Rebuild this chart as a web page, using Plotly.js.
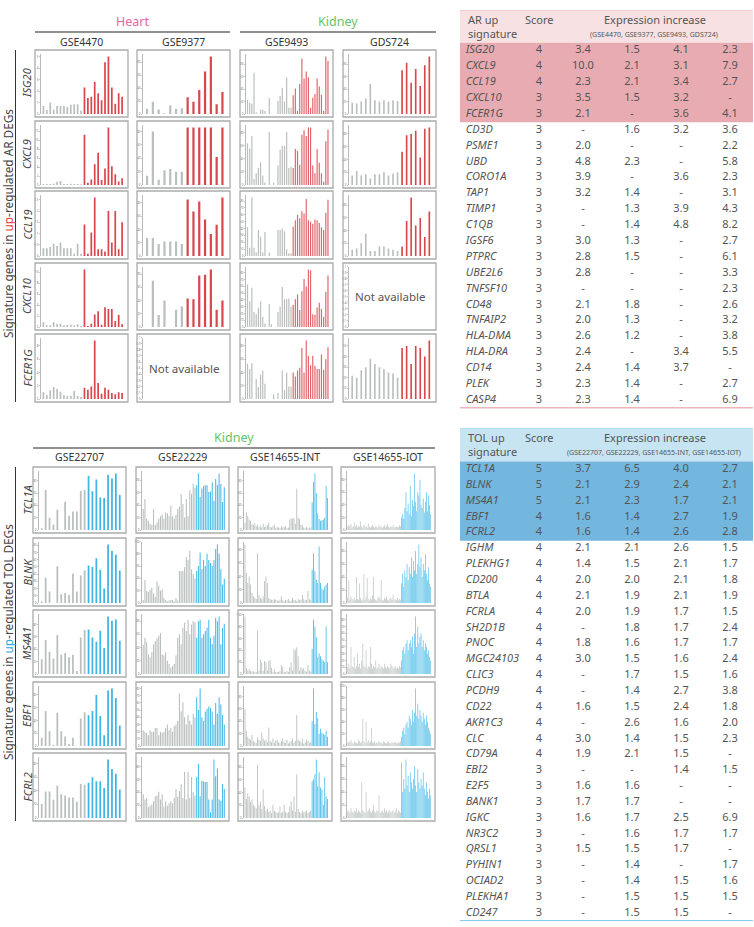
<!DOCTYPE html>
<html>
<head>
<meta charset="utf-8">
<script src="https://cdn.plot.ly/plotly-3.0.1.min.js"></script>
<style>
  html, body { margin: 0; padding: 0; background: #ffffff; }
  #chart { width: 754px; height: 927px; }
</style>
</head>
<body>
<div id="chart"></div>
<script>
// ---------- Panel A: signature genes in up-regulated AR DEGs ----------
const arGenes = ['ISG20', 'CXCL9', 'CCL19', 'CXCL10', 'FCER1G'];
const arSets = ['GSE4470', 'GSE9377', 'GSE9493', 'GDS724'];

const ISG20_GSE4470_ctrl = [0.7, 0.35, 1.0, 0.4, 0.7, 0.7, 0.7, 0.6, 0.8, 0.85, 0.85, 0.3];
const ISG20_GSE4470_up = [2.3, 1.4, 1.5, 2.8, 1.8, 1.2, 4.5, 5.0, 2.3, 0.9, 1.8, 1.5];
const ISG20_GSE9377_ctrl = [8, 19, 7, 1, 13, 8, 9];
const ISG20_GSE9377_up = [26, 19, 37, 66, 89, 15, 34];
const ISG20_GSE9493_ctrl = [23, 18, 17, 66, 3, 0, 7, 7, 5, 0, 26, 0, 0, 0, 21, 29, 42, 20, 59, 10, 10];
const ISG20_GSE9493_up = [30, 41, 5, 48, 89, 57, 68, 59, 10, 26, 32, 57, 44, 31, 5, 92, 85];
const ISG20_GDS724_ctrl = [18, 17, 20, 25, 48, 22, 20, 22, 20, 22, 21];
const ISG20_GDS724_up = [70, 82, 50, 72, 45, 78, 92];

const CXCL9_GSE4470_ctrl = [0.2, 0.2, 0.2, 0.3, 0.7, 0.9, 0.2, 0.2, 0.3, 0.2, 0.2, 0.1];
const CXCL9_GSE4470_up = [11.2, 0.5, 1.2, 4.6, 7.2, 1.1, 3.7, 12.8, 4.2, 2.4, 0.8, 1.5];
const CXCL9_GSE9377_ctrl = [14, 80, 8, 22, 24, 20, 20];
const CXCL9_GSE9377_up = [86, 86, 86, 86, 86, 42, 86];
const CXCL9_GSE9493_ctrl = [64, 56, 75, 9, 18, 26, 35, 14, 4, 0, 81, 0, 4, 0, 30, 54, 60, 60, 81, 26, 28];
const CXCL9_GSE9493_up = [26, 55, 52, 31, 77, 84, 75, 88, 88, 30, 18, 55, 34, 18, 5, 67, 85];
const CXCL9_GDS724_ctrl = [15, 22, 15, 17, 10, 17, 17, 20, 15, 18, 20];
const CXCL9_GDS724_up = [52, 78, 80, 85, 43, 88, 90];

const CCL19_GSE4470_ctrl = [0.35, 0.35, 0.4, 0.55, 0.45, 0.6, 0.35, 0.35, 0.35, 0.1, 0.55, 0.1];
const CCL19_GSE4470_up = [1.4, 0.1, 1.05, 2.6, 0.3, 0.3, 0.2, 2.0, 0.6, 2.0, 0.3, 1.5];
const CCL19_GSE9377_ctrl = [27, 27, 18, 22, 22, 22, 18];
const CCL19_GSE9377_up = [85, 67, 82, 55, 33, 47, 88];
const CCL19_GSE9493_ctrl = [42, 12, 85, 12, 5, 38, 28, 5, 35, 0, 5, 0, 0, 0, 38, 38, 40, 36, 10, 4, 4];
const CCL19_GSE9493_up = [43, 52, 60, 55, 65, 62, 83, 52, 50, 47, 53, 52, 48, 42, 38, 63, 82];
const CCL19_GDS724_ctrl = [10, 12, 20, 35, 8, 8, 15, 15, 12, 10, 8];
const CCL19_GDS724_up = [15, 55, 92, 48, 60, 30, 70];

const CXCL10_GSE4470_ctrl = [0.9, 0.3, 0.3, 0.9, 0.6, 0.6, 0.3, 0.4, 0.4, 0.3, 0.5, 0.2];
const CXCL10_GSE4470_up = [10.5, 0.2, 0.6, 2.3, 2.9, 0.4, 3.6, 3.3, 3.3, 1.1, 2.2, 0.5];
const CXCL10_GSE9377_ctrl = [0, 70, 18, 40, 0, 26, 31];
const CXCL10_GSE9377_up = [43, 42, 78, 79, 87, 26, 40];
const CXCL10_GSE9493_ctrl = [63, 38, 58, 22, 19, 29, 38, 15, 5, 0, 34, 4, 0, 0, 22, 30, 59, 41, 41, 42, 30];
const CXCL10_GSE9493_up = [33, 41, 48, 25, 53, 71, 60, 85, 84, 19, 18, 29, 36, 27, 15, 52, 76];

const FCER1G_GSE4470_ctrl = [1.0, 0.6, 1.3, 1.8, 1.5, 1.1, 0.6, 0.5, 0.5, 1.2, 0.5, 0.3];
const FCER1G_GSE4470_up = [1.7, 1.4, 1.9, 8.8, 2.4, 0.8, 1.7, 1.4, 0.9, 0.7, 1.0, 0.9];
const FCER1G_GSE9493_ctrl = [53, 45, 54, 0, 30, 18, 37, 43, 23, 0, 0, 0, 7, 0, 9, 0, 43, 13, 40, 19, 19];
const FCER1G_GSE9493_up = [40, 34, 43, 47, 77, 40, 88, 65, 51, 65, 50, 45, 45, 67, 44, 60, 78];
const FCER1G_GDS724_ctrl = [22, 20, 27, 30, 38, 33, 30, 28, 25, 24, 20];
const FCER1G_GDS724_up = [48, 50, 33, 50, 48, 40, 55];

// ---------- Panel B: signature genes in up-regulated TOL DEGs ----------
const tolGenes = ['TCL1A', 'BLNK', 'MS4A1', 'EBF1', 'FCRL2'];
const tolSets = ['GSE22707', 'GSE22229', 'GSE14655-INT', 'GSE14655-IOT'];

const TCL1A_GSE22707_ctrl = [3, 65, 20, 9, 33, 0, 46, 23, 30, 30, 64, 65];
const TCL1A_GSE22707_up = [88, 63, 82, 53, 52, 90, 84, 92, 57];
const TCL1A_GSE22229_ctrl = [34, 50, 18, 15, 10, 8, 34, 8, 12, 18, 22, 25, 18, 28, 27, 22, 39, 22, 18, 24, 34, 38, 58, 42, 20, 50, 22, 64, 58, 74, 68];
const TCL1A_GSE22229_up = [72, 91, 53, 67, 71, 72, 72, 61, 62, 77, 47, 82, 73, 91, 74, 45, 69];
const TCL1A_INT_ctrl = [12, 29, 23, 17, 15, 10, 8, 12, 6, 9, 5, 7, 4, 10, 5, 6, 8, 12, 5, 4, 6, 9, 3, 5, 4, 3, 6, 4, 5, 7, 3, 4, 17, 19, 18, 20, 10, 67, 20, 18, 8, 8, 4, 3, 5, 3, 4, 3];
const TCL1A_INT_up = [45, 78, 92, 60, 27, 18, 15, 16, 17, 20, 72, 52];
const TCL1A_IOT_ctrl = [5, 8, 6, 10, 4, 6, 12, 5, 8, 4, 6, 5, 14, 6, 4, 8, 5, 6, 4, 10, 5, 4, 6, 8, 5, 4, 6, 5, 4, 8, 5, 6, 4, 5, 8, 4, 6, 10, 5, 4, 6, 5, 8, 4, 5, 6, 4, 5, 8, 6];
const TCL1A_IOT_up = [20, 25, 18, 35, 60, 30, 42, 25, 70, 22, 48, 38, 90, 45, 30, 60, 55, 80, 40, 35, 50, 28, 45, 60, 30, 55, 40, 25];

const BLNK_GSE22707_ctrl = [2, 35, 16, 0, 51, 12, 14, 11, 41, 16, 38, 45];
const BLNK_GSE22707_up = [52, 50, 62, 46, 20, 81, 72, 67, 45];
const BLNK_GSE22229_ctrl = [5, 38, 20, 18, 22, 25, 15, 10, 35, 28, 20, 22, 8, 5, 3, 4, 5, 5, 3, 8, 4, 52, 52, 52, 58, 75, 70, 85, 55, 47, 40];
const BLNK_GSE22229_up = [52, 60, 82, 55, 70, 60, 80, 70, 65, 60, 70, 88, 95, 80, 55, 30, 40];
const BLNK_INT_ctrl = [88, 45, 30, 40, 28, 15, 10, 8, 6, 75, 12, 8, 6, 10, 33, 40, 30, 8, 6, 5, 4, 6, 5, 4, 3, 5, 10, 4, 3, 5, 4, 6, 3, 4, 8, 5, 4, 3, 6, 4, 5, 12, 6, 4, 5, 18, 6, 4];
const BLNK_INT_up = [50, 75, 48, 35, 30, 85, 30, 22, 20, 25, 28, 30];
const BLNK_IOT_ctrl = [8, 35, 5, 10, 6, 4, 8, 5, 40, 6, 5, 30, 8, 4, 6, 45, 5, 10, 38, 6, 4, 8, 5, 12, 40, 6, 5, 4, 8, 10, 6, 35, 5, 4, 8, 6, 10, 5, 4, 6, 8, 5, 12, 4, 6, 5, 8, 4, 6, 5];
const BLNK_IOT_up = [30, 45, 25, 50, 40, 60, 35, 55, 45, 70, 40, 65, 50, 80, 45, 60, 90, 55, 70, 40, 60, 50, 75, 45, 35, 55, 30, 25];

const MS4A1_GSE22707_ctrl = [24, 55, 36, 25, 63, 31, 34, 27, 31, 5, 59, 71];
const MS4A1_GSE22707_up = [72, 59, 52, 70, 42, 93, 86, 88, 54];
const MS4A1_GSE22229_ctrl = [44, 55, 48, 30, 25, 33, 45, 50, 54, 58, 62, 30, 28, 33, 20, 15, 10, 12, 15, 28, 55, 60, 45, 70, 78, 65, 82, 60, 75, 80, 78];
const MS4A1_GSE22229_up = [55, 80, 82, 55, 60, 65, 70, 82, 55, 45, 58, 85, 80, 87, 45, 70, 76];
const MS4A1_INT_ctrl = [97, 10, 6, 8, 5, 4, 5, 3, 4, 73, 6, 25, 20, 5, 22, 20, 6, 22, 23, 10, 4, 8, 3, 4, 3, 5, 15, 12, 4, 3, 5, 4, 12, 20, 6, 42, 40, 45, 30, 6, 12, 8, 10, 5, 4, 15, 6, 4];
const MS4A1_INT_up = [42, 92, 80, 62, 28, 35, 30, 25, 22, 20, 80, 20];
const MS4A1_IOT_ctrl = [10, 15, 8, 40, 12, 10, 25, 8, 12, 30, 10, 15, 8, 20, 45, 12, 10, 35, 8, 12, 10, 40, 15, 8, 12, 10, 20, 8, 10, 15, 8, 12, 10, 8, 15, 10, 8, 12, 10, 8, 15, 12, 8, 10, 12, 8, 10, 8, 12, 10];
const MS4A1_IOT_up = [20, 35, 40, 30, 45, 50, 35, 45, 50, 40, 55, 30, 60, 85, 40, 70, 45, 55, 60, 40, 50, 35, 45, 40, 30, 35, 25, 20];

const EBF1_GSE22707_ctrl = [13, 55, 23, 2, 52, 23, 15, 3, 13, 0, 43, 53];
const EBF1_GSE22707_up = [48, 55, 80, 47, 17, 87, 90, 75, 32];
const EBF1_GSE22229_ctrl = [22, 20, 18, 15, 22, 20, 20, 25, 25, 15, 20, 18, 20, 25, 30, 22, 25, 20, 28, 30, 35, 73, 48, 61, 40, 30, 43, 35, 30, 45, 40];
const EBF1_GSE22229_up = [68, 50, 80, 40, 35, 48, 52, 55, 53, 48, 30, 60, 45, 68, 58, 43, 30];
const EBF1_INT_ctrl = [60, 25, 15, 12, 10, 18, 8, 6, 5, 14, 10, 8, 22, 12, 8, 10, 6, 30, 8, 6, 12, 5, 8, 10, 6, 5, 8, 12, 6, 5, 10, 4, 6, 8, 12, 5, 8, 50, 10, 8, 6, 12, 4, 6, 10, 8, 5, 6];
const EBF1_INT_up = [40, 93, 35, 55, 45, 20, 28, 22, 20, 18, 25, 15];
const EBF1_IOT_ctrl = [5, 8, 6, 10, 5, 4, 8, 6, 5, 4, 10, 8, 5, 6, 45, 8, 5, 40, 6, 10, 5, 8, 30, 6, 5, 8, 4, 6, 5, 8, 6, 5, 4, 8, 6, 5, 4, 6, 8, 5, 4, 6, 5, 8, 6, 5, 4, 6, 5, 8];
const EBF1_IOT_up = [15, 25, 30, 20, 35, 40, 30, 50, 45, 35, 60, 40, 55, 95, 50, 70, 45, 60, 50, 40, 55, 45, 35, 50, 40, 30, 25, 20];

const FCRL2_GSE22707_ctrl = [21, 39, 39, 27, 48, 35, 33, 30, 30, 24, 50, 49];
const FCRL2_GSE22707_up = [52, 60, 54, 54, 44, 86, 72, 65, 42];
const FCRL2_GSE22229_ctrl = [37, 29, 31, 17, 19, 21, 26, 34, 35, 41, 29, 37, 18, 26, 19, 23, 26, 23, 31, 45, 33, 42, 53, 31, 72, 29, 72, 31, 64, 40, 35];
const FCRL2_GSE22229_up = [64, 84, 34, 58, 57, 56, 56, 29, 9, 29, 91, 65, 77, 29, 27, 53, 45];
const FCRL2_INT_ctrl = [48, 30, 39, 34, 25, 29, 21, 18, 15, 84, 20, 26, 14, 45, 19, 12, 15, 10, 12, 8, 21, 12, 10, 8, 9, 18, 8, 10, 21, 10, 8, 9, 18, 26, 12, 34, 10, 69, 14, 10, 8, 12, 9, 10, 12, 8, 10, 12];
const FCRL2_INT_up = [58, 61, 69, 92, 50, 72, 48, 45, 21, 64, 34, 30];
const FCRL2_IOT_ctrl = [10, 12, 8, 15, 10, 8, 12, 10, 15, 8, 12, 10, 8, 55, 12, 10, 8, 40, 10, 12, 15, 10, 8, 12, 20, 10, 8, 12, 10, 35, 8, 10, 12, 8, 15, 10, 12, 8, 10, 12, 8, 10, 12, 8, 10, 15, 8, 12, 10, 8];
const FCRL2_IOT_up = [85, 40, 60, 45, 90, 50, 65, 40, 70, 55, 45, 60, 80, 50, 40, 75, 55, 45, 60, 50, 70, 45, 35, 55, 40, 30, 45, 35];

// ---------- Tables ----------
const arTableGene = ['ISG20','CXCL9','CCL19','CXCL10','FCER1G','CD3D','PSME1','UBD','CORO1A','TAP1','TIMP1','C1QB','IGSF6','PTPRC','UBE2L6','TNFSF10','CD48','TNFAIP2','HLA-DMA','HLA-DRA','CD14','PLEK','CASP4'];
const arTableScore = [4,4,4,3,3,3,3,3,3,3,3,3,3,3,3,3,3,3,3,3,3,3,3];
const arIncGSE4470 = [3.4,10.0,2.3,3.5,2.1,null,2.0,4.8,3.9,3.2,null,null,3.0,2.8,2.8,null,2.1,2.0,2.6,2.4,2.4,2.3,2.3];
const arIncGSE9377 = [1.5,2.1,2.1,1.5,null,1.6,null,2.3,null,1.4,1.3,1.4,1.3,1.5,null,null,1.8,1.3,1.2,null,1.4,1.4,1.4];
const arIncGSE9493 = [4.1,3.1,3.4,3.2,3.6,3.2,null,null,3.6,null,3.9,4.8,null,null,null,null,null,null,null,3.4,3.7,null,null];
const arIncGDS724 = [2.3,7.9,2.7,null,4.1,3.6,2.2,5.8,2.3,3.1,4.3,8.2,2.7,6.1,3.3,2.3,2.6,3.2,3.8,5.5,null,2.7,6.9];

const tolTableGene = ['TCL1A','BLNK','MS4A1','EBF1','FCRL2','IGHM','PLEKHG1','CD200','BTLA','FCRLA','SH2D1B','PNOC','MGC24103','CLIC3','PCDH9','CD22','AKR1C3','CLC','CD79A','EBI2','E2F5','BANK1','IGKC','NR3C2','QRSL1','PYHIN1','OCIAD2','PLEKHA1','CD247'];
const tolTableScore = [5,5,5,4,4,4,4,4,4,4,4,4,4,4,4,4,4,4,4,3,3,3,3,3,3,3,3,3,3];
const tolIncGSE22707 = [3.7,2.1,2.1,1.6,1.6,2.1,1.4,2.0,2.1,2.0,null,1.8,3.0,null,null,1.6,null,3.0,1.9,null,1.6,1.7,1.6,null,1.5,null,null,null,null];
const tolIncGSE22229 = [6.5,2.9,2.3,1.4,1.4,2.1,1.5,2.0,1.9,1.9,1.8,1.6,1.5,1.7,1.4,1.5,2.6,1.4,2.1,null,1.6,1.7,1.7,1.6,1.5,1.4,1.4,1.5,1.5];
const tolIncINT = [4.0,2.4,1.7,2.7,2.6,2.6,2.1,2.1,2.1,1.7,1.7,1.7,1.6,1.5,2.7,2.4,1.6,1.5,1.5,1.4,null,null,2.5,1.7,1.7,null,1.5,1.5,1.5];
const tolIncIOT = [2.7,2.1,2.1,1.9,2.8,1.5,1.7,1.8,1.9,1.5,2.4,1.7,2.4,1.6,3.8,1.8,2.0,2.3,null,1.5,null,null,6.9,1.7,null,1.7,1.6,1.5,null];

// ---------- Layout helpers ----------
const W = 754, H = 927;
const px = v => v / W;
const py = v => 1 - v / H;
const FONT = 'Noto Sans, Open Sans, sans-serif';
const GRAY_BAR = '#b9bfbd';

const sections = [
  {
    genes: arGenes, sets: arSets,
    colours: ['#d9464c', '#d9464c', '#e2676d', '#d9464c'],
    widths: [0.5, 0.38, 0.55, 0.36],
    cols: [[35, 128], [137, 230], [240, 333], [343, 436]],
    rows: [[50, 117], [121, 188], [191, 259], [263, 330], [334, 402]],
    panels: [
      [[ISG20_GSE4470_ctrl, ISG20_GSE4470_up], [ISG20_GSE9377_ctrl, ISG20_GSE9377_up], [ISG20_GSE9493_ctrl, ISG20_GSE9493_up], [ISG20_GDS724_ctrl, ISG20_GDS724_up]],
      [[CXCL9_GSE4470_ctrl, CXCL9_GSE4470_up], [CXCL9_GSE9377_ctrl, CXCL9_GSE9377_up], [CXCL9_GSE9493_ctrl, CXCL9_GSE9493_up], [CXCL9_GDS724_ctrl, CXCL9_GDS724_up]],
      [[CCL19_GSE4470_ctrl, CCL19_GSE4470_up], [CCL19_GSE9377_ctrl, CCL19_GSE9377_up], [CCL19_GSE9493_ctrl, CCL19_GSE9493_up], [CCL19_GDS724_ctrl, CCL19_GDS724_up]],
      [[CXCL10_GSE4470_ctrl, CXCL10_GSE4470_up], [CXCL10_GSE9377_ctrl, CXCL10_GSE9377_up], [CXCL10_GSE9493_ctrl, CXCL10_GSE9493_up], null],
      [[FCER1G_GSE4470_ctrl, FCER1G_GSE4470_up], null, [FCER1G_GSE9493_ctrl, FCER1G_GSE9493_up], [FCER1G_GDS724_ctrl, FCER1G_GDS724_up]]
    ],
    setLabelY: 42,
    groups: [
      {text: 'Heart', colour: '#e7649f', x0: 35, x1: 230},
      {text: 'Kidney', colour: '#66c466', x0: 240, x1: 436}
    ],
    groupY: 22, ruleY: 32,
    sideText: 'Signature genes in <span style="color:#e53e3e">up</span>-regulated AR DEGs'
  },
  {
    genes: tolGenes, sets: tolSets,
    colours: ['#3db5e5', '#4bbce8', '#4bbce8', '#4bbce8'],
    widths: [0.45, 0.62, 0.62, 0.62],
    cols: [[33, 126], [136, 229], [238, 332], [341, 435]],
    rows: [[467, 533], [538, 606], [610, 677], [682, 749], [753, 821]],
    panels: [
      [[TCL1A_GSE22707_ctrl, TCL1A_GSE22707_up], [TCL1A_GSE22229_ctrl, TCL1A_GSE22229_up], [TCL1A_INT_ctrl, TCL1A_INT_up], [TCL1A_IOT_ctrl, TCL1A_IOT_up]],
      [[BLNK_GSE22707_ctrl, BLNK_GSE22707_up], [BLNK_GSE22229_ctrl, BLNK_GSE22229_up], [BLNK_INT_ctrl, BLNK_INT_up], [BLNK_IOT_ctrl, BLNK_IOT_up]],
      [[MS4A1_GSE22707_ctrl, MS4A1_GSE22707_up], [MS4A1_GSE22229_ctrl, MS4A1_GSE22229_up], [MS4A1_INT_ctrl, MS4A1_INT_up], [MS4A1_IOT_ctrl, MS4A1_IOT_up]],
      [[EBF1_GSE22707_ctrl, EBF1_GSE22707_up], [EBF1_GSE22229_ctrl, EBF1_GSE22229_up], [EBF1_INT_ctrl, EBF1_INT_up], [EBF1_IOT_ctrl, EBF1_IOT_up]],
      [[FCRL2_GSE22707_ctrl, FCRL2_GSE22707_up], [FCRL2_GSE22229_ctrl, FCRL2_GSE22229_up], [FCRL2_INT_ctrl, FCRL2_INT_up], [FCRL2_IOT_ctrl, FCRL2_IOT_up]]
    ],
    setLabelY: 457,
    groups: [
      {text: 'Kidney', colour: '#66c466', x0: 33, x1: 435}
    ],
    groupY: 438, ruleY: 448,
    sideText: 'Signature genes in <span style="color:#2ea8df">up</span>-regulated TOL DEGs'
  }
];

const data = [];
const layout = {
  width: W, height: H,
  margin: {l: 0, r: 0, t: 0, b: 0},
  paper_bgcolor: '#ffffff', plot_bgcolor: 'rgba(0,0,0,0)',
  showlegend: false,
  font: {family: FONT, color: '#444'},
  shapes: [], annotations: []
};

let axisNo = 0;
function nextAxis() {
  axisNo += 1;
  const s = axisNo === 1 ? '' : String(axisNo);
  return {xKey: 'xaxis' + s, yKey: 'yaxis' + s, x: 'x' + s, y: 'y' + s};
}

// ---------- Small bar-chart grid ----------
sections.forEach(sec => {
  // group headers (Heart / Kidney) with rule below
  sec.groups.forEach(g => {
    layout.annotations.push({
      xref: 'paper', yref: 'paper', x: px((g.x0 + g.x1) / 2), y: py(sec.groupY),
      text: g.text, showarrow: false, xanchor: 'center', yanchor: 'middle',
      font: {family: FONT, size: 12.5, color: g.colour}
    });
    layout.shapes.push({
      type: 'line', xref: 'paper', yref: 'paper',
      x0: px(g.x0), x1: px(g.x1), y0: py(sec.ruleY), y1: py(sec.ruleY),
      line: {color: '#6d6d6d', width: 1.4}
    });
  });
  // dataset labels
  sec.sets.forEach((name, c) => {
    const [l, r] = sec.cols[c];
    layout.annotations.push({
      xref: 'paper', yref: 'paper', x: px((l + r) / 2), y: py(sec.setLabelY),
      text: name, showarrow: false, xanchor: 'center', yanchor: 'middle',
      font: {family: FONT, size: 10.5, color: '#333'}
    });
  });
  // side rule and rotated title
  const top = sec.rows[0][0], bottom = sec.rows[sec.rows.length - 1][1];
  layout.shapes.push({
    type: 'line', xref: 'paper', yref: 'paper',
    x0: px(15.5), x1: px(15.5), y0: py(top), y1: py(bottom),
    line: {color: '#333', width: 1}
  });
  layout.annotations.push({
    xref: 'paper', yref: 'paper', x: px(8), y: py((top + bottom) / 2 - 2),
    text: sec.sideText, textangle: -90, showarrow: false,
    xanchor: 'center', yanchor: 'middle',
    font: {family: FONT, size: 11.8, color: '#444'}
  });

  sec.genes.forEach((gene, r) => {
    const [t, b] = sec.rows[r];
    layout.annotations.push({
      xref: 'paper', yref: 'paper', x: px(26.5), y: py((t + b) / 2),
      text: gene, textangle: -90, showarrow: false,
      xanchor: 'center', yanchor: 'middle',
      font: {family: FONT, size: 11, color: '#444', style: 'italic'}
    });
    sec.cols.forEach(([l, rr], c) => {
      const ax = nextAxis();
      const panel = sec.panels[r][c];
      layout.shapes.push({
        type: 'rect', xref: 'paper', yref: 'paper',
        x0: px(l), x1: px(rr), y0: py(b), y1: py(t),
        line: {color: '#a9adac', width: 1.3}, fillcolor: 'rgba(0,0,0,0)'
      });
      const yAxis = {
        domain: [py(b - 3), py(t + 3.5)], anchor: ax.x,
        showgrid: false, zeroline: false,
        showline: true, linecolor: '#8c8c8c', linewidth: 0.6,
        ticks: 'outside', ticklen: 1.3, tickwidth: 0.5, tickcolor: '#8c8c8c',
        tickfont: {family: FONT, size: 3, color: '#777'}, nticks: 9, fixedrange: true
      };
      const xAxis = {
        domain: [px(l + 6), px(rr - 3.5)], anchor: ax.y,
        showgrid: false, zeroline: false, showline: false,
        showticklabels: false, ticks: '', fixedrange: true
      };
      if (panel) {
        const [ctrl, up] = panel;
        const n = ctrl.length + up.length;
        xAxis.range = [-0.7, n - 0.3];
        yAxis.rangemode = 'tozero';
        data.push({
          type: 'bar', xaxis: ax.x, yaxis: ax.y,
          x: ctrl.map((_, i) => i), y: ctrl,
          width: sec.widths[c], marker: {color: GRAY_BAR, line: {width: 0}},
          hoverinfo: 'skip'
        });
        data.push({
          type: 'bar', xaxis: ax.x, yaxis: ax.y,
          x: up.map((_, i) => ctrl.length + i), y: up,
          width: sec.widths[c], marker: {color: sec.colours[c], line: {width: 0}},
          hoverinfo: 'skip'
        });
      } else {
        xAxis.range = [0, 1];
        yAxis.range = [0, 1];
        yAxis.dtick = 0.1;
        data.push({type: 'scatter', mode: 'markers', xaxis: ax.x, yaxis: ax.y, x: [], y: [], hoverinfo: 'skip'});
        layout.annotations.push({
          xref: ax.x + ' domain', yref: ax.y + ' domain', x: 0.5, y: 0.5,
          text: 'Not available', showarrow: false, xanchor: 'center', yanchor: 'middle',
          font: {family: FONT, size: 11.5, color: '#555'}
        });
      }
      layout[ax.xKey] = xAxis;
      layout[ax.yKey] = yAxis;
    });
  });
});

// ---------- Tables ----------
const fmt = v => (v === null ? '-' : v.toFixed(1));

const tables = [
  {
    top: 10, bottom: 408.3, firstRow: 50.7, pitch: 15.88,
    genes: arTableGene, score: arTableScore,
    inc: [arIncGSE4470, arIncGSE9377, arIncGSE9493, arIncGDS724],
    head: 'AR up<br>signature', sub: '(GSE4470, GSE9377, GSE9493, GDS724)',
    headFill: '#f7e1e3', highFill: '#e8abb2', rule: '#e06d74', topRule: '#eab3b8'
  },
  {
    top: 428, bottom: 921, firstRow: 469.3, pitch: 15.85,
    genes: tolTableGene, score: tolTableScore,
    inc: [tolIncGSE22707, tolIncGSE22229, tolIncINT, tolIncIOT],
    head: 'TOL up<br>signature', sub: '(GSE22707, GSE22229, GSE14655-INT, GSE14655-IOT)',
    headFill: '#c7e4f3', highFill: '#73b6de', rule: '#62b9e4', topRule: '#a9d5ec'
  }
];
const TABLE_L = 460, TABLE_R = 753;
const colX = {gene: 5.7, score: 79, inc: [123, 172, 221, 270]};

tables.forEach(tb => {
  const ax = nextAxis();
  const yTop = (tb.top - tb.firstRow) / tb.pitch;
  const yBot = (tb.bottom - tb.firstRow) / tb.pitch;
  layout[ax.xKey] = {domain: [px(TABLE_L), px(TABLE_R)], range: [0, TABLE_R - TABLE_L], visible: false, fixedrange: true, anchor: ax.y};
  layout[ax.yKey] = {domain: [py(tb.bottom), py(tb.top)], range: [yBot, yTop], visible: false, fixedrange: true, anchor: ax.x};

  // header band, highlighted rows, rules
  layout.shapes.push({type: 'rect', xref: 'paper', yref: ax.y, x0: px(TABLE_L), x1: px(TABLE_R), y0: yTop, y1: -0.5, fillcolor: tb.headFill, line: {width: 0}, layer: 'below'});
  layout.shapes.push({type: 'rect', xref: 'paper', yref: ax.y, x0: px(TABLE_L), x1: px(TABLE_R), y0: -0.5, y1: 4.5, fillcolor: tb.highFill, line: {width: 0}, layer: 'below'});
  layout.shapes.push({type: 'line', xref: 'paper', yref: ax.y, x0: px(TABLE_L), x1: px(TABLE_R), y0: yTop, y1: yTop, line: {color: tb.topRule, width: 1}});
  layout.shapes.push({type: 'line', xref: 'paper', yref: ax.y, x0: px(TABLE_L), x1: px(TABLE_R), y0: yBot, y1: yBot, line: {color: tb.rule, width: 1.5}});

  const rowIdx = tb.genes.map((_, i) => i);
  const cellFont = {family: FONT, size: 11, color: '#555'};
  data.push({
    type: 'scatter', mode: 'text', xaxis: ax.x, yaxis: ax.y, cliponaxis: false,
    x: rowIdx.map(() => colX.gene), y: rowIdx, text: tb.genes,
    textposition: 'middle right', textfont: Object.assign({style: 'italic'}, cellFont), hoverinfo: 'skip'
  });
  data.push({
    type: 'scatter', mode: 'text', xaxis: ax.x, yaxis: ax.y, cliponaxis: false,
    x: rowIdx.map(() => colX.score), y: rowIdx, text: tb.score.map(String),
    textposition: 'middle center', textfont: cellFont, hoverinfo: 'skip'
  });
  tb.inc.forEach((vals, k) => {
    data.push({
      type: 'scatter', mode: 'text', xaxis: ax.x, yaxis: ax.y, cliponaxis: false,
      x: rowIdx.map(() => colX.inc[k]), y: rowIdx, text: vals.map(fmt),
      textposition: 'middle center', textfont: cellFont, hoverinfo: 'skip'
    });
  });

  // header text
  const hy1 = -1.98, hy2 = -1.07;
  const headFont = {family: FONT, size: 11, color: '#555'};
  layout.annotations.push({xref: ax.x, yref: ax.y, x: colX.gene, y: (hy1 + hy2) / 2 - 0.02, text: tb.head, align: 'left', showarrow: false, xanchor: 'left', yanchor: 'middle', font: headFont});
  layout.annotations.push({xref: ax.x, yref: ax.y, x: colX.score, y: hy1, text: 'Score', showarrow: false, xanchor: 'center', yanchor: 'middle', font: headFont});
  layout.annotations.push({xref: ax.x, yref: ax.y, x: (colX.inc[0] + colX.inc[3]) / 2 - 2, y: hy1, text: 'Expression increase', showarrow: false, xanchor: 'center', yanchor: 'middle', font: headFont});
  layout.annotations.push({xref: ax.x, yref: ax.y, x: (colX.inc[0] + colX.inc[3]) / 2 - 3, y: hy2 + 0.03, text: tb.sub, showarrow: false, xanchor: 'center', yanchor: 'middle', font: {family: FONT, size: 7, color: '#555'}});
});

Plotly.newPlot('chart', data, layout, {staticPlot: true, displayModeBar: false});
</script>
</body>
</html>
